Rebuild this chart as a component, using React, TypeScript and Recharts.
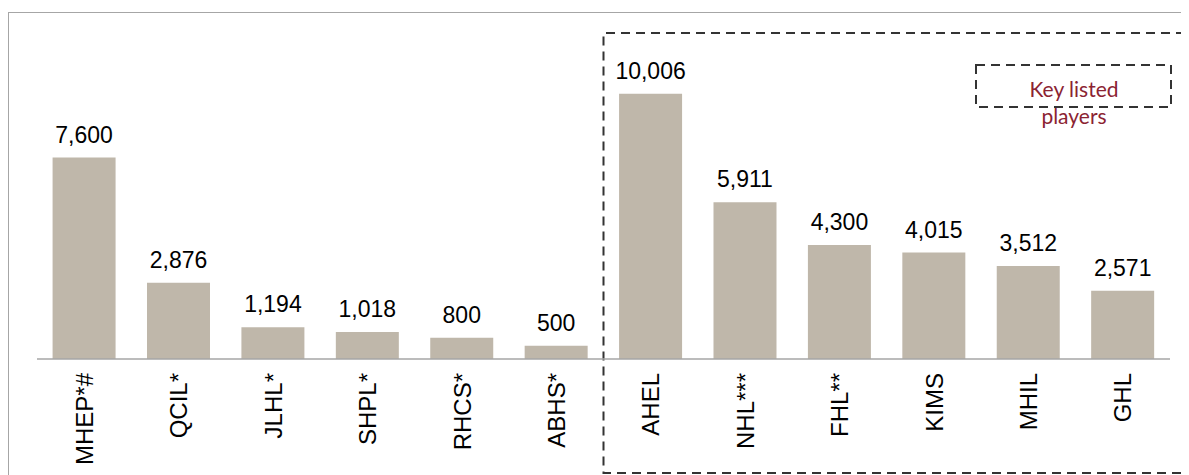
import React from 'react';
import { BarChart, Bar, XAxis, YAxis, LabelList, ReferenceArea } from 'recharts';

const companies = ['MHEP*#', 'QCIL*', 'JLHL*', 'SHPL*', 'RHCS*', 'ABHS*', 'AHEL', 'NHL***', 'FHL**', 'KIMS', 'MHIL', 'GHL'];
const beds = [7600, 2876, 1194, 1018, 800, 500, 10006, 5911, 4300, 4015, 3512, 2571];
const yDomain = [0, 12000];
const keyGroupStart = 'AHEL';
const keyGroupEnd = 'GHL';
const keyLabel = ['Key listed', 'players'];

const data = companies.map((name, i) => ({ name, value: beds[i] }));

const BAR = '#BFB7AA';
const FONT = '"Liberation Sans", Arial, sans-serif';

const RotatedTick = (props: any) => {
  const { x, y, payload } = props;
  return (
    <g transform={`translate(${x},${y})`}>
      <text
        transform="rotate(-90)"
        x={0}
        y={0}
        dy="0.36em"
        textAnchor="end"
        fill="#000"
        fontSize={24}
        fontFamily={FONT}
      >
        {payload.value}
      </text>
    </g>
  );
};

// dashed frame around the listed players, plus the little key box
const KeyFrame = (props: any) => {
  const { x, y, width, height } = props;
  const top = y - 8;
  const bottom = y + height + 114;
  const right = x + width;
  const dash = '9 6';
  return (
    <g>
      <path
        d={`M ${right + 60} ${top} L ${x} ${top} L ${x} ${bottom} L ${right + 60} ${bottom}`}
        fill="none"
        stroke="#333"
        strokeWidth={2}
        strokeDasharray={dash}
      />
      <rect
        x={right - 194}
        y={y + 24}
        width={195}
        height={42}
        fill="none"
        stroke="#333"
        strokeWidth={2}
        strokeDasharray={dash}
      />
      <text
        x={right - 96}
        y={y + 56}
        textAnchor="middle"
        fill="#8B2332"
        fontSize={21}
        fontFamily="Lato, 'Open Sans', sans-serif"
      >
        <tspan x={right - 96}>{keyLabel[0]}</tspan>
        <tspan x={right - 96} dy={27}>{keyLabel[1]}</tspan>
      </text>
    </g>
  );
};

const App: React.FC = () => {
  return (
    <div
      style={{
        marginTop: 4,
        width: 1181,
        height: 463,
        borderTop: '1px solid #a6a6a6',
        borderLeft: '1px solid #a6a6a6',
        overflow: 'hidden',
      }}
    >
      <BarChart
        width={1180}
        height={462}
        data={data}
        margin={{ top: 28, right: 19, bottom: 0, left: 28 }}
        barCategoryGap="16.5%"
      >
        <XAxis
          dataKey="name"
          axisLine={{ stroke: '#a6a6a6', strokeWidth: 1.5 }}
          tickLine={false}
          tickSize={0}
          tickMargin={14}
          interval={0}
          height={116}
          tick={<RotatedTick />}
        />
        <YAxis hide domain={yDomain} />
        <ReferenceArea
          x1={keyGroupStart}
          x2={keyGroupEnd}
          y1={yDomain[0]}
          y2={yDomain[1]}
          ifOverflow="visible"
          shape={<KeyFrame />}
        />
        <Bar dataKey="value" fill={BAR} isAnimationActive={false}>
          <LabelList
            dataKey="value"
            position="top"
            offset={15}
            fill="#000"
            fontSize={23}
            fontFamily={FONT}
            formatter={(v: any) => Number(v).toLocaleString('en-US')}
          />
        </Bar>
      </BarChart>
    </div>
  );
};

export default App;
